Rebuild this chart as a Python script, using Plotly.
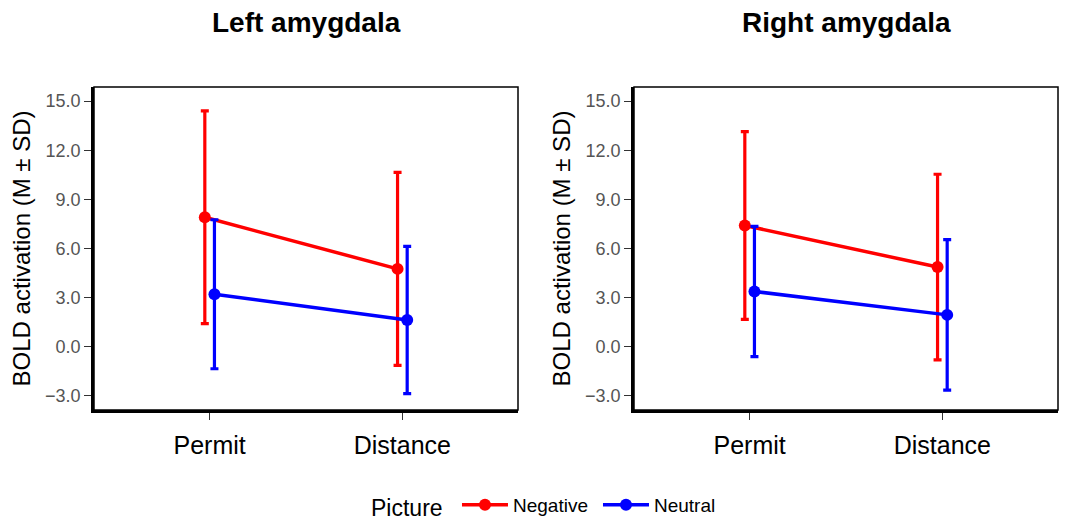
import plotly.graph_objects as go

categories = ["Permit", "Distance"]
series = ["Negative", "Neutral"]
colors = {"Negative": "#FF0000", "Neutral": "#0000FF"}

left_mean = {"Negative": [7.9, 4.75], "Neutral": [3.2, 1.63]}
left_sd = {"Negative": [6.5, 5.9], "Neutral": [4.55, 4.5]}
right_mean = {"Negative": [7.4, 4.86], "Neutral": [3.37, 1.94]}
right_sd = {"Negative": [5.73, 5.67], "Neutral": [3.98, 4.6]}

panel_titles = ["Left amygdala", "Right amygdala"]
y_ticks = [-3.0, 0.0, 3.0, 6.0, 9.0, 12.0, 15.0]

W, H = 1073, 522
dodge = {"Negative": -0.025, "Neutral": 0.025}
FONT = "Liberation Sans"

fig = go.Figure()

panels = [(left_mean, left_sd, "x", "y"), (right_mean, right_sd, "x2", "y2")]
for pi, (means, sds, xa, ya) in enumerate(panels):
    for s in series:
        xs = [i + 1 + dodge[s] for i in range(len(categories))]
        fig.add_trace(go.Scatter(
            x=xs, y=means[s], mode="lines+markers", name=s,
            xaxis=xa, yaxis=ya,
            line=dict(color=colors[s], width=3.5),
            marker=dict(color=colors[s], size=12),
            error_y=dict(type="data", array=sds[s], visible=True,
                         color=colors[s], thickness=3.2, width=4),
            showlegend=(pi == 0),
        ))

xdoms = [[94 / W, 518 / W], [634 / W, 1058 / W]]
ydom = [1 - 410 / H, 1 - 87 / H]

axis_common = dict(showgrid=False, zeroline=False, showline=True, linecolor="black",
                   linewidth=2.5, ticks="outside", ticklen=7, tickcolor="#333333",
                   tickwidth=1.2, mirror=False, automargin=False)

for i, key in enumerate(["", "2"]):
    fig.update_layout(**{
        "xaxis" + key: dict(domain=xdoms[i], range=[0.4, 2.6], tickvals=[1, 2],
                            ticktext=categories, anchor="y" + key,
                            tickfont=dict(size=25, color="black", family=FONT),
                            ticklabelstandoff=4,
                            **axis_common),
        "yaxis" + key: dict(domain=ydom, range=[-3.87, 15.86], tickvals=y_ticks,
                            tickformat=".1f", anchor="x" + key,
                            tickfont=dict(size=18, color="#555555", family=FONT),
                            title=dict(text="BOLD activation (M ± SD)",
                                       font=dict(size=24, color="black", family=FONT),
                                       standoff=8),
                            **axis_common),
    })
    fig.add_shape(type="rect", xref="x" + key + " domain", yref="y" + key + " domain",
                  x0=0, x1=1, y0=0, y1=1, line=dict(color="black", width=1.5))
    fig.add_annotation(text="<b>" + panel_titles[i] + "</b>", xref="paper", yref="paper",
                       x=(xdoms[i][0] + xdoms[i][1]) / 2, y=1 - 22 / H,
                       showarrow=False, xanchor="center", yanchor="middle",
                       font=dict(size=28, color="black", family=FONT))

fig.update_layout(
    width=W, height=H,
    margin=dict(l=0, r=0, t=0, b=0, autoexpand=False),
    paper_bgcolor="white", plot_bgcolor="white",
    font=dict(family=FONT),
    legend=dict(orientation="h", x=554 / W, xanchor="center", y=-4 / H, yanchor="bottom",
                title=dict(text="Picture ", font=dict(size=23, color="black")),
                font=dict(size=19, color="black"),
                entrywidth=80, entrywidthmode="pixels",
                itemwidth=46, tracegroupgap=0),
)

fig.write_html("out.html", config={"displayModeBar": False},
               post_script="document.body.style.margin='0';document.body.style.overflow='hidden';")
